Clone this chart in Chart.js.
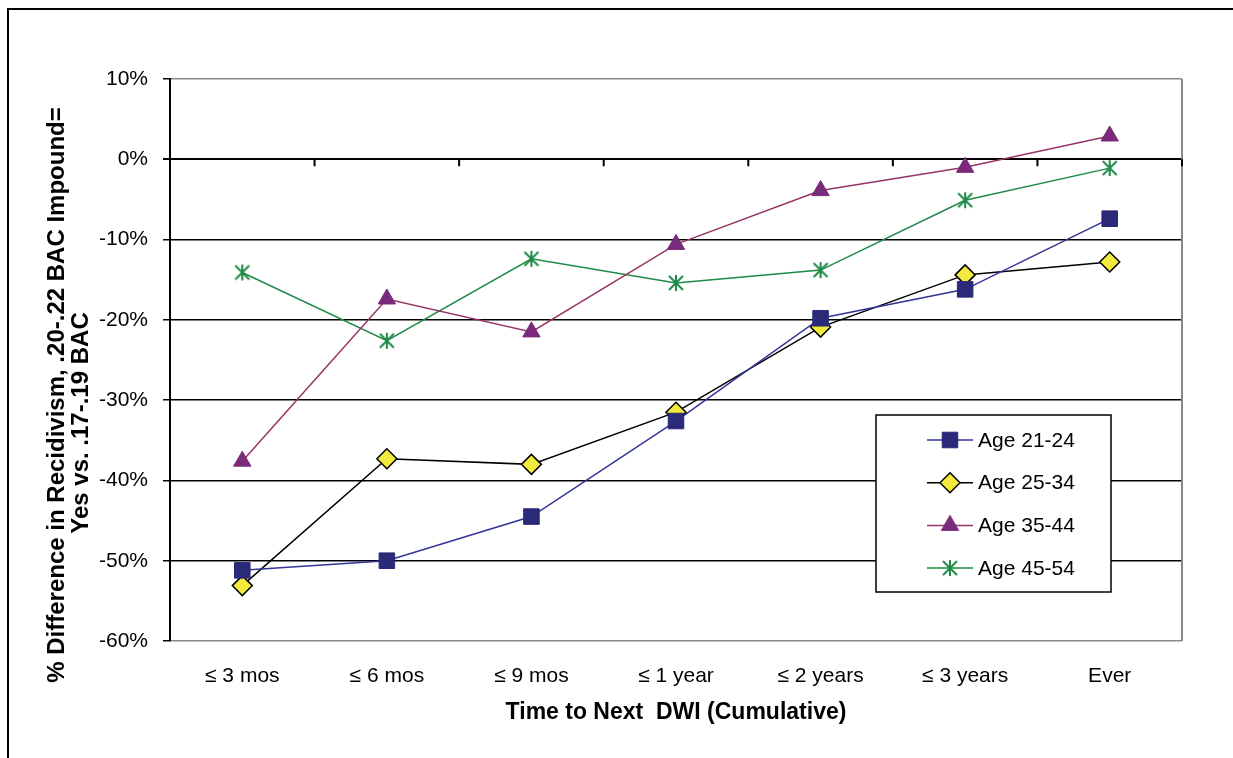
<!DOCTYPE html>
<html>
<head>
<meta charset="utf-8">
<script src="https://cdn.jsdelivr.net/npm/chart.js@4/dist/chart.umd.min.js"></script>
<style>
  html, body { margin: 0; padding: 0; background: #fff; }
  #wrap { width: 1233px; height: 758px; }
</style>
</head>
<body>
<div id="wrap"><canvas id="dwi-chart"></canvas></div>
<script>
// data
var categories = ['\u2264 3 mos', '\u2264 6 mos', '\u2264 9 mos', '\u2264 1 year', '\u2264 2 years', '\u2264 3 years', 'Ever'];
var age2124 = [-51.2, -50.0, -44.5, -32.6, -19.8, -16.2, -7.4];
var age2534 = [-53.1, -37.3, -38.0, -31.5, -20.9, -14.4, -12.8];
var age3544 = [-37.6, -17.4, -21.5, -10.6, -3.9, -1.0, 2.9];
var age4554 = [-14.1, -22.6, -12.4, -15.4, -13.8, -5.1, -1.1];
var yTicks = [10, 0, -10, -20, -30, -40, -50, -60];
var yTitle = ['% Difference in Recidivism, .20-.22 BAC Impound=', 'Yes vs. .17-.19 BAC'];

var FONT = 'Liberation Sans, Arial, sans-serif';

// excel style star marker (x plus vertical bar)
function starMarker(color) {
  var c = document.createElement('canvas');
  c.width = 18; c.height = 18;
  var g = c.getContext('2d');
  g.strokeStyle = color;
  g.lineWidth = 2;
  g.beginPath();
  g.moveTo(2, 2); g.lineTo(16, 16);
  g.moveTo(16, 2); g.lineTo(2, 16);
  g.moveTo(9, 1); g.lineTo(9, 17);
  g.stroke();
  return c;
}
var greenStar = starMarker('#1E8A47');

// frame, right border, x ticks on the 0% line, y title
var framePlugin = {
  id: 'framePlugin',
  beforeDraw: function(chart) {
    var ctx = chart.ctx;
    ctx.save();
    ctx.fillStyle = '#fff';
    ctx.fillRect(0, 0, chart.width, chart.height);
    ctx.strokeStyle = '#000';
    ctx.lineWidth = 2;
    ctx.beginPath();
    ctx.moveTo(8, chart.height);
    ctx.lineTo(8, 9);
    ctx.lineTo(chart.width, 9);
    ctx.stroke();

    // two line y title, not centred on the plot in the original
    ctx.fillStyle = '#000';
    ctx.font = 'bold 24px ' + FONT;
    ctx.textAlign = 'center';
    ctx.textBaseline = 'middle';
    var pos = [[57, 395], [81, 423]];
    yTitle.forEach(function(t, i) {
      ctx.save();
      ctx.translate(pos[i][0], pos[i][1]);
      ctx.rotate(-Math.PI / 2);
      ctx.fillText(t, 0, 0);
      ctx.restore();
    });
    ctx.restore();
  },
  beforeDatasetsDraw: function(chart) {
    var ctx = chart.ctx, a = chart.chartArea;
    var y0 = chart.scales.y.getPixelForValue(0);
    ctx.save();
    ctx.strokeStyle = '#888';
    ctx.lineWidth = 2;
    ctx.beginPath();
    ctx.moveTo(a.right, a.top);
    ctx.lineTo(a.right, a.bottom);
    ctx.stroke();
    ctx.strokeStyle = '#000';
    ctx.lineWidth = 2;
    var step = (a.right - a.left) / categories.length;
    ctx.beginPath();
    for (var i = 1; i <= categories.length; i++) {
      var x = a.left + i * step;
      ctx.moveTo(x, y0);
      ctx.lineTo(x, y0 + 7);
    }
    ctx.stroke();
    ctx.restore();
  }
};

// legend box inside the plot
var boxLegend = {
  id: 'boxLegend',
  afterDatasetsDraw: function(chart) {
    var ctx = chart.ctx;
    var bx = 876, by = 415, bw = 235, bh = 177;
    ctx.save();
    ctx.fillStyle = '#fff';
    ctx.fillRect(bx, by, bw, bh);
    ctx.strokeStyle = '#000';
    ctx.lineWidth = 1.5;
    ctx.strokeRect(bx, by, bw, bh);
    chart.data.datasets.forEach(function(ds, i) {
      var y = 440 + i * 42.7;
      ctx.strokeStyle = ds.borderColor;
      ctx.lineWidth = 1.5;
      ctx.beginPath();
      ctx.moveTo(927, y);
      ctx.lineTo(973, y);
      ctx.stroke();
      ctx.fillStyle = ds.pointBackgroundColor;
      ctx.strokeStyle = ds.pointBorderColor;
      ctx.lineWidth = ds.pointBorderWidth;
      Chart.helpers.drawPoint(ctx, {
        pointStyle: ds.pointStyle,
        radius: ds.pointRadius,
        borderWidth: ds.pointBorderWidth,
        rotation: 0
      }, 950, y);
      ctx.fillStyle = '#000';
      ctx.font = '21px ' + FONT;
      ctx.textBaseline = 'middle';
      ctx.textAlign = 'left';
      ctx.fillText(ds.label, 978, y + 1);
    });
    ctx.restore();
  }
};

var ctx = document.getElementById('dwi-chart').getContext('2d');
var chart = new Chart(ctx, {
  type: 'line',
  data: {
    labels: categories,
    datasets: [{
      label: 'Age 21-24',
      data: age2124,
      borderColor: '#333399',
      borderWidth: 1.5,
      pointStyle: 'rect',
      pointRadius: 11,
      pointBackgroundColor: '#2A2A78',
      pointBorderColor: '#2A2A78',
      pointBorderWidth: 1
    }, {
      label: 'Age 25-34',
      data: age2534,
      borderColor: '#000',
      borderWidth: 1.5,
      pointStyle: 'rectRot',
      pointRadius: 10,
      pointBackgroundColor: '#F2EA3C',
      pointBorderColor: '#000',
      pointBorderWidth: 1.5
    }, {
      label: 'Age 35-44',
      data: age3544,
      borderColor: '#993366',
      borderWidth: 1.5,
      pointStyle: 'triangle',
      pointRadius: 10,
      pointBackgroundColor: '#7A2A7A',
      pointBorderColor: '#7A2A7A',
      pointBorderWidth: 1
    }, {
      label: 'Age 45-54',
      data: age4554,
      borderColor: '#1E8A47',
      borderWidth: 1.5,
      pointStyle: greenStar,
      pointRadius: 9,
      pointBackgroundColor: '#1E8A47',
      pointBorderColor: '#1E8A47',
      pointBorderWidth: 2
    }]
  },
  options: {
    responsive: true,
    maintainAspectRatio: false,
    animation: false,
    layout: { padding: { left: 10, top: 79, right: 51, bottom: 0 } },
    plugins: {
      legend: { display: false },
      tooltip: { enabled: false }
    },
    elements: { line: { tension: 0 } },
    scales: {
      x: {
        offset: true,
        grid: { display: false, drawTicks: false, offset: true },
        border: { display: false },
        ticks: { color: '#000', font: { family: FONT, size: 21 }, padding: 23, maxRotation: 0 },
        title: {
          display: true,
          text: 'Time to Next  DWI (Cumulative)',
          color: '#000',
          font: { family: FONT, size: 23, weight: 'bold' },
          padding: { top: 0, bottom: 32 }
        },
        afterFit: function(s) { s.height = 117; }
      },
      y: {
        min: -60,
        max: 10,
        afterBuildTicks: function(s) { s.ticks = yTicks.map(function(v) { return { value: v }; }); },
        grid: {
          color: function(c) { return (c.tick && (c.tick.value === 10 || c.tick.value === -60)) ? '#888' : '#000'; },
          lineWidth: function(c) { return (c.tick && c.tick.value === 0) ? 2 : 1.5; },
          tickColor: '#000',
          tickLength: 7
        },
        border: { color: '#000', width: 2 },
        ticks: {
          color: '#000',
          font: { family: FONT, size: 21 },
          padding: 15,
          callback: function(v) { return v + '%'; }
        },
        afterFit: function(s) { s.width = 160; }
      }
    }
  },
  plugins: [framePlugin, boxLegend]
});
</script>
</body>
</html>
